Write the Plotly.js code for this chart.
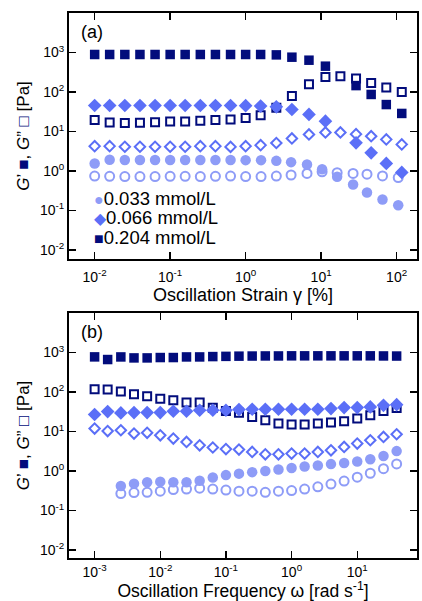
<!DOCTYPE html>
<html><head><meta charset="utf-8">
<script src="https://cdn.plot.ly/plotly-3.0.1.min.js"></script>
<style>html,body{margin:0;padding:0;background:#fff}#chart{width:422px;height:601px}</style>
</head><body><div id="chart"></div>
<script>
// ---------- DATA ----------
const seriesNames = ['0.033 mmol/L', '0.066 mmol/L', '0.204 mmol/L'];

// (a) strain sweep
const strainSD = [0.01, 0.0158, 0.0251, 0.0398, 0.0631, 0.1, 0.158, 0.251, 0.398, 0.631, 1.0, 1.58, 2.55, 4.1, 6.9, 11.4, 18, 29, 46, 73, 117];
const strainC  = [0.01, 0.0158, 0.0251, 0.0398, 0.0631, 0.1, 0.158, 0.251, 0.398, 0.631, 1.0, 1.6, 2.55, 4.0, 6.5, 10.3, 16.3, 26.5, 40.5, 65, 105];
const aG1p  = [1.55, 1.92, 1.9, 1.9, 1.9, 1.9, 1.9, 1.9, 1.9, 1.9, 1.88, 1.88, 1.8, 1.67, 1.46, 1.1, 0.71, 0.455, 0.286, 0.19, 0.136];
const aG1pp = [0.74, 0.73, 0.72, 0.72, 0.72, 0.73, 0.73, 0.72, 0.73, 0.74, 0.72, 0.72, 0.74, 0.79, 0.865, 0.95, 0.9, 0.865, 0.83, 0.75, 0.68];
const aG2p  = [45.5, 45.5, 45.5, 45.5, 45.5, 45.5, 45.5, 45.5, 45.5, 45.5, 45, 44, 42, 36, 27, 18.2, null, 5.15, 2.87, 1.55, 0.92];
const aG2pp = [4.25, 4.25, 4.1, 4.1, 4.1, 4.1, 4.1, 4.25, 4.25, 4.07, 4.25, 4.5, 5.1, 6.65, 8.4, 9.45, 9.45, 8.55, 7.6, 6.3, 4.7];
const aG3p  = [890, 890, 890, 890, 890, 890, 890, 890, 890, 890, 890, 890, 870, 760, 638, 450, null, 145, 86.5, 48, 28.6];
const aG3pp = [19.4, 16.9, 16.3, 16.6, 17.2, 17.9, 17.9, 18.6, 19.4, 20.1, 22, 25.9, 40, 79.6, 157, 241, 251, 220, 170, 130, 100];

// (b) frequency sweep
const freq = [0.001, 0.00158, 0.00251, 0.00398, 0.00631, 0.01, 0.0158, 0.0251, 0.0398, 0.0631, 0.1, 0.158, 0.251, 0.398, 0.631, 1, 1.58, 2.51, 3.98, 6.31, 10, 15.8, 25.1, 39.8];
const bG1p  = [null, null, 0.42, 0.48, 0.52, 0.54, 0.52, 0.52, 0.57, 0.69, 0.79, 0.86, 0.94, 1.0, 1.1, 1.2, 1.3, 1.38, 1.5, 1.6, 1.75, 2.0, 2.4, 3.2];
const bG1pp = [null, null, 0.27, 0.285, 0.29, 0.31, 0.34, 0.35, 0.37, 0.35, 0.33, 0.31, 0.31, 0.29, 0.31, 0.32, 0.35, 0.4, 0.47, 0.56, 0.7, 0.88, 1.15, 1.52];
const bG2p  = [27, 32, 29.6, 30.2, 30.2, 30.2, 32.7, 32.7, 34.6, 34.6, 34.6, 36, 36.6, 36.6, 36.6, 36.6, 36.6, 36.6, 38.2, 40.5, 40.5, 42, 46, 48];
const bG2pp = [11.9, 10.3, 10.8, 8.9, 9.3, 8.05, 6.65, 5.45, 4.5, 3.95, 3.6, 3.5, 3.05, 2.66, 2.66, 2.77, 2.77, 3.05, 3.36, 4.07, 4.97, 6.03, 7.3, 8.55];
const bG3p  = [776, 665, 774, 731, 731, 747, 747, 774, 774, 790, 800, 810, 815, 820, 820, 825, 825, 825, 825, 825, 825, 825, 820, 815];
const bG3pp = [118, 116, 103, 88, 78, 68, 62, 54, 54, 40, 33, 30, 23.5, 19.3, 15.9, 15, 15, 15.9, 16.9, 18.3, 21.3, 25.9, 33, 39.5];

// tick labels
const yTickVals = [0.01, 0.1, 1, 10, 100, 1000];
const yTickText = ['10<sup>-2</sup>', '10<sup>-1</sup>', '10<sup>0</sup>', '10<sup>1</sup>', '10<sup>2</sup>', '10<sup>3</sup>'];
const xaTickVals = [0.01, 0.1, 1, 10, 100];
const xaTickText = ['10<sup>-2</sup>', '10<sup>-1</sup>', '10<sup>0</sup>', '10<sup>1</sup>', '10<sup>2</sup>'];
const xbTickVals = [0.001, 0.01, 0.1, 1, 10];
const xbTickText = ['10<sup>-3</sup>', '10<sup>-2</sup>', '10<sup>-1</sup>', '10<sup>0</sup>', '10<sup>1</sup>'];

// ---------- STYLE ----------
const LIGHT = '#8e9cf7', MID = '#5b6ff7', NAVY = '#020c7c';
const FONT = 'Liberation Sans, Arial, sans-serif';
const seriesColors = [LIGHT, MID, NAVY];
const legendGlyphs = ['●', '◆', '■'];

function tr(x, y, xa, ya, symbol, color, size, open, name) {
  return {
    type: 'scatter', mode: 'markers', x: x, y: y, xaxis: xa, yaxis: ya,
    name: name, showlegend: false,
    marker: { symbol: symbol, color: color, size: size,
              line: { width: open ? 2 : 0, color: color } },
    hoverinfo: 'x+y'
  };
}

const data = [
  // panel (a)
  tr(strainC, aG1pp, 'x', 'y', 'circle-open', LIGHT, 9, true, seriesNames[0] + " G''"),
  tr(strainC, aG1p, 'x', 'y', 'circle', LIGHT, 10.5, false, seriesNames[0] + " G'"),
  tr(strainSD, aG2pp, 'x', 'y', 'diamond-open', MID, 8, true, seriesNames[1] + " G''"),
  tr(strainSD, aG3pp, 'x', 'y', 'square-open', NAVY, 8, true, seriesNames[2] + " G''"),
  tr(strainSD, aG2p, 'x', 'y', 'diamond', MID, 10.5, false, seriesNames[1] + " G'"),
  tr(strainSD, aG3p, 'x', 'y', 'square', NAVY, 9.5, false, seriesNames[2] + " G'"),
  // panel (b)
  tr(freq, bG1pp, 'x2', 'y2', 'circle-open', LIGHT, 9, true, seriesNames[0] + " G''"),
  tr(freq, bG1p, 'x2', 'y2', 'circle', LIGHT, 10.5, false, seriesNames[0] + " G'"),
  tr(freq, bG2pp, 'x2', 'y2', 'diamond-open', MID, 8, true, seriesNames[1] + " G''"),
  tr(freq, bG3pp, 'x2', 'y2', 'square-open', NAVY, 8, true, seriesNames[2] + " G''"),
  tr(freq, bG2p, 'x2', 'y2', 'diamond', MID, 10.5, false, seriesNames[1] + " G'"),
  tr(freq, bG3p, 'x2', 'y2', 'square', NAVY, 9.5, false, seriesNames[2] + " G'")
];

const axBase = {
  type: 'log', showgrid: false, zeroline: false,
  showline: true, linecolor: '#000', linewidth: 2, mirror: 'ticks',
  ticks: 'inside', ticklen: 7, tickwidth: 1.5, tickcolor: '#000',
  tickfont: { family: FONT, size: 14, color: '#000' }
};
const yTitle = '<i>G</i>’ <span style="color:' + NAVY + '">■</span>, <i>G</i>” <span style="color:' + NAVY + '">□</span> [Pa]';

// legend entries (drawn as text rows inside panel a)
const legendRowsY = [0.244, 0.167, 0.0894];
const legendAnns = seriesNames.map((nm, i) => ({
  text: '<span style="color:' + seriesColors[i] + ';font-size:16px">' + legendGlyphs[i] + '</span>' + nm,
  xref: 'x domain', yref: 'y domain', x: 0.065, y: legendRowsY[i],
  xanchor: 'left', yanchor: 'middle', showarrow: false,
  font: { family: FONT, size: 18.5, color: '#000' }
}));

const layout = {
  width: 422, height: 601,
  margin: { l: 69, r: 5, t: 13, b: 43 },
  paper_bgcolor: '#fff', plot_bgcolor: '#fff',
  font: { family: FONT, color: '#000' },
  showlegend: false,
  xaxis: Object.assign({}, axBase, {
    domain: [0, 1], anchor: 'y', range: [-2.34, 2.27],
    tickvals: xaTickVals, ticktext: xaTickText, ticklabelstandoff: 4,
    title: { text: 'Oscillation Strain γ [%]', font: { family: FONT, size: 18 }, standoff: 2 }
  }),
  yaxis: Object.assign({}, axBase, {
    domain: [0.5486, 1], anchor: 'x', range: [-2.23, 4.0],
    tickvals: yTickVals, ticktext: yTickText,
    title: { text: yTitle, font: { family: FONT, size: 17 }, standoff: 6 }
  }),
  xaxis2: Object.assign({}, axBase, {
    domain: [0, 1], anchor: 'y2', range: [-3.39, 1.91],
    tickvals: xbTickVals, ticktext: xbTickText, ticklabelstandoff: 0,
    title: { text: 'Oscillation Frequency ω [rad s<sup>-1</sup>]', font: { family: FONT, size: 17.5 }, standoff: 6 }
  }),
  yaxis2: Object.assign({}, axBase, {
    domain: [0, 0.4495], anchor: 'x2', range: [-2.2, 4.0],
    tickvals: yTickVals, ticktext: yTickText,
    title: { text: yTitle, font: { family: FONT, size: 17 }, standoff: 6 }
  }),
  annotations: [
    { text: '(a)', xref: 'x domain', yref: 'y domain', x: 0.03, y: 0.97, xanchor: 'left', yanchor: 'top', showarrow: false, font: { family: FONT, size: 18 } },
    { text: '(b)', xref: 'x2 domain', yref: 'y2 domain', x: 0.03, y: 0.97, xanchor: 'left', yanchor: 'top', showarrow: false, font: { family: FONT, size: 18 } }
  ].concat(legendAnns)
};

Plotly.newPlot('chart', data, layout, { displayModeBar: false, staticPlot: true });
</script></body></html>
